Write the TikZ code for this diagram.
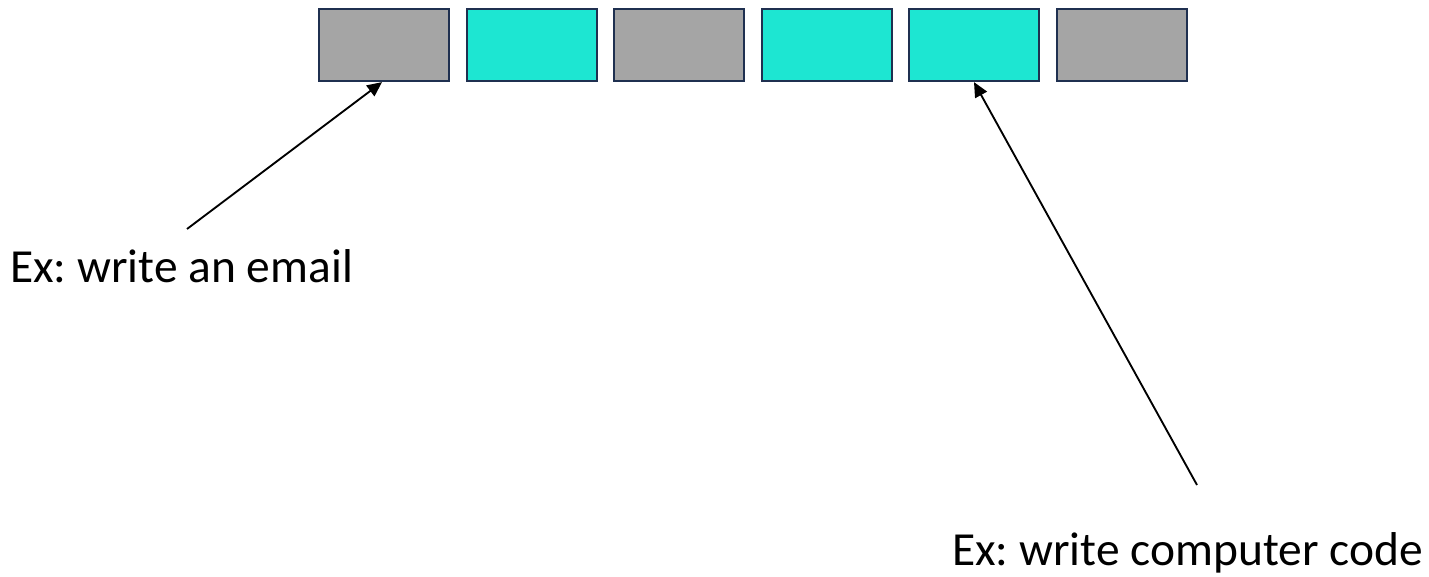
\documentclass[tikz,border=0pt]{standalone}
\usepackage{fontspec}
\setmainfont{Carlito}
\usetikzlibrary{arrows.meta}
\definecolor{boxgray}{HTML}{A5A5A5}
\definecolor{boxcyan}{HTML}{1DE6D2}
\definecolor{boxline}{HTML}{1F3050}
\frenchspacing
\begin{document}
\begin{tikzpicture}[x=0.75pt,y=-0.75pt,
  cell/.style={draw=boxline,line width=1.6pt,minimum width=97.5pt,minimum height=54pt,inner sep=0pt,anchor=north west},
  graycell/.style={cell,fill=boxgray},
  cyancell/.style={cell,fill=boxcyan},
  label/.style={font=\fontsize{35.6}{40}\selectfont,inner sep=0pt,anchor=base west},
  pointer/.style={-{Triangle[length=11pt,width=10pt]},line width=1.4pt,black}]
\useasboundingbox (0,0) rectangle (1429,577);
\node[graycell] (c1) at (318,8) {};
\node[cyancell] (c2) at (465.5,8) {};
\node[graycell] (c3) at (613,8) {};
\node[cyancell] (c4) at (760.5,8) {};
\node[cyancell] (c5) at (908,8) {};
\node[graycell] (c6) at (1055.5,8) {};
\node[label] (t1) at (10,283) {Ex: write an email};
\node[label] (t2) at (952,565) {Ex: write computer code};
\coordinate (s1) at (187,229);
\coordinate (s2) at (1197,485);
\draw[pointer] (s1) -- (c1.south -| 382,0);
\draw[pointer] (s2) -- (c5.south -| 974,0);
\end{tikzpicture}
\end{document}
